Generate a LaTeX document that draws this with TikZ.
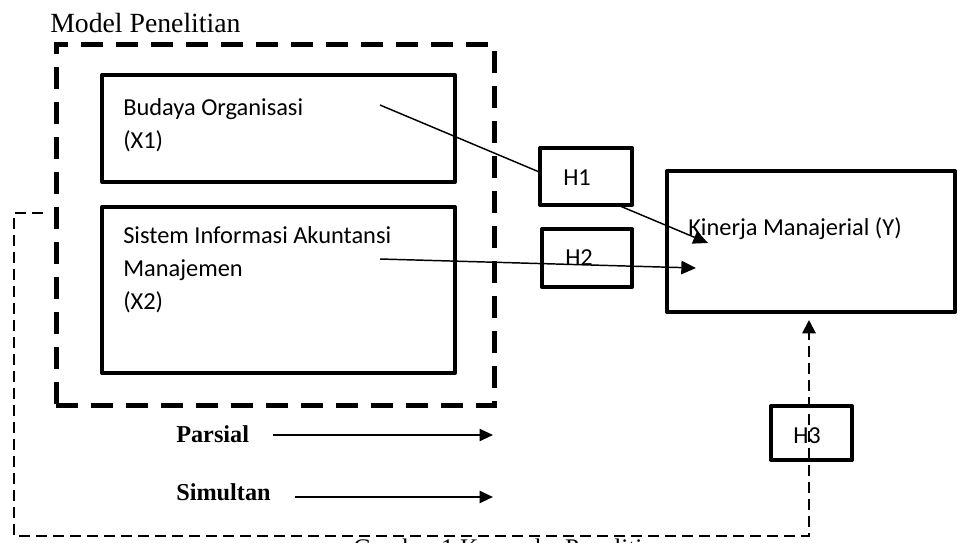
\documentclass[tikz,border=0pt]{standalone}
\usepackage{fontspec}
\setmainfont{Liberation Serif}
\newfontfamily\calfont{Carlito}
\usetikzlibrary{arrows.meta,fit}

\begin{document}
\begin{tikzpicture}[x=0.75pt,y=-0.75pt,
  box/.style={draw, line width=3pt, inner sep=0pt, line join=round},
  ctext/.style={font=\calfont\fontsize{18.3}{22}\selectfont, anchor=base west, inner sep=0pt},
  stext/.style={font=\fontsize{18.2}{22}\selectfont\bfseries, anchor=base west, inner sep=0pt},
  conn/.style={line width=1.1pt, -{Triangle[length=11pt,width=10pt]}},
  legarrow/.style={line width=1.5pt, -{Triangle[length=10pt,width=9pt]}},
  bigdash/.style={draw, line width=3.75pt, dash pattern=on 16.5pt off 9.75pt, inner sep=0pt},
  thindash/.style={line width=1.5pt, dash pattern=on 8.25pt off 4.5pt},
]
\useasboundingbox (0,0) rectangle (958,543);

% title
\node[font=\fontsize{20.8}{24}\selectfont, anchor=base west, inner sep=0pt] (title) at (50,32) {Model Penelitian};

% dashed group frame
\node[bigdash, fit={(56,44)(494,405)}] (grp) {};

% variable boxes
\node[box, fit={(102,75)(455,182)}] (b1) {};
\node[ctext] (t1a) at (123,115) {Budaya Organisasi};
\node[ctext] (t1b) at (123,148) {(X1)};

\node[box, fit={(102,207)(455,373)}] (b2) {};
\node[ctext] (t2a) at (123,243) {Sistem Informasi Akuntansi};
\node[ctext] (t2b) at (123,276) {Manajemen};
\node[ctext] (t2c) at (123,309) {(X2)};

% dependent box
\node[box, fit={(667,171)(955,312)}] (ybox) {};
\node[ctext] (ty) at (688,235) {Kinerja Manajerial (Y)};

% H1 connector (hidden behind H1 box)
\coordinate (s1) at (380,105);
\coordinate (e1) at (708,243);
\draw[conn] (s1) -- (e1);
\node[box, fill=white, fit={(540,148)(632,205)}] (h1) {};
\node[ctext] (th1) at (563,185) {H1};

% H2 box and connector
\node[box, fit={(542,229)(632,287)}] (h2) {};
\node[ctext] (th2) at (565,265) {H2};
\coordinate (s2) at (380,259);
\coordinate (e2) at (696,268);
\draw[conn] (s2) -- (e2);

% H3 box and simultaneous dashed connector
\node[box, fit={(771,406)(852,460)}] (h3) {};
\node[ctext] (th3) at (793,443) {H3};
\coordinate (d0) at (43,213);
\coordinate (d1) at (14,213);
\coordinate (d2) at (14,536);
\coordinate (d3) at (809,536);
\coordinate (d4) at (809,320);
\draw[thindash, -{Triangle[length=10pt,width=10pt]}] (d0) -- (d1) -- (d2) -- (d3) -- (d4);

% legend
\node[stext] (lp) at (176,442) {Parsial};
\coordinate (p0) at (273,435);
\coordinate (p1) at (493,435);
\draw[legarrow] (p0) -- (p1);
\node[stext] (ls) at (176,500) {Simultan};
\coordinate (q0) at (295,497);
\coordinate (q1) at (493,497);
\draw[legarrow] (q0) -- (q1);

% caption, cut by the lower edge
\begin{scope}
\clip (0,0) rectangle (958,543);
\node[font=\fontsize{19}{22}\selectfont, anchor=base west, inner sep=0pt] (cap) at (353,556) {Gambar 1 Kerangka Penelitian};
\end{scope}
\end{tikzpicture}
\end{document}
